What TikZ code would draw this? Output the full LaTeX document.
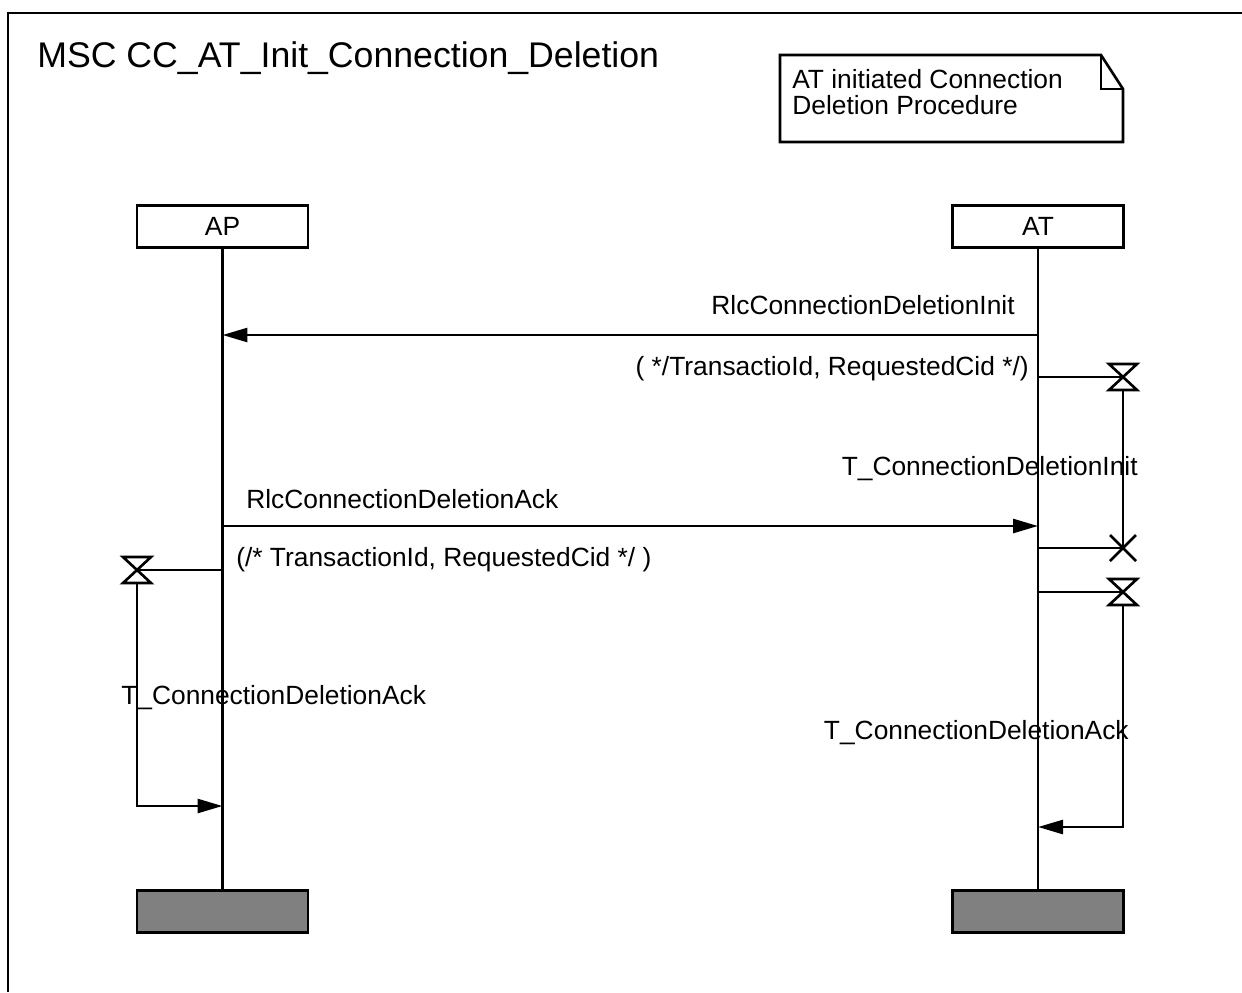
\documentclass[tikz,border=0pt]{standalone}
\usepackage{fontspec}
\setmainfont{Liberation Sans}
\usetikzlibrary{arrows.meta}
\tikzset{
  msgfont/.style={font=\fontsize{15}{14.7}\selectfont},
  lbl/.style={msgfont,inner sep=0pt},
  inst/.style={draw,line width=1.5pt,minimum width=3.42cm,minimum height=0.84cm,inner sep=0pt,msgfont},
  instend/.style={inst,fill=gray},
  msg/.style={line width=1.5pt,-{Triangle[length=5mm,width=2.8mm]}},
  timerset/.pic={\draw[line width=1.5pt,line join=miter] (-14,-13) -- (14,-13) -- (-14,13) -- (14,13) -- cycle;},
  timerout/.pic={\draw[line width=1.5pt] (-13,-13) -- (13,13) (-13,13) -- (13,-13);}
}
\begin{document}
\begin{tikzpicture}[x=0.02cm,y=-0.02cm,line width=1.5pt]
    \useasboundingbox (0,0) rectangle (1242,992);
    % frame and title
    \draw (1242,13) -- (8,13) -- (8,992);
    \node[anchor=base west,inner sep=0pt,font=\fontsize{20.3}{24}\selectfont] (title) at (36,67) {MSC CC\_AT\_Init\_Connection\_Deletion};
    % comment note
    \draw (780,55) -- (1101,55) -- (1123,89) -- (1123,142) -- (780,142) -- cycle;
    \draw (1101,55) -- (1101,89) -- (1123,89);
    \node[lbl,anchor=north west,align=left] (note) at (791,68) {AT initiated Connection\\Deletion Procedure};
    % instances
    \node[inst] (ap) at (222.5,226.5) {AP};
    \node[inst] (at) at (1038,226.5) {AT};
    \node[instend] (apend) at (222.5,911.5) {};
    \node[instend] (atend) at (1038,911.5) {};
    \draw (ap) -- (apend);
    \draw (at) -- (atend);
    % messages
    \coordinate (apm1) at (222.5,335);
    \coordinate (atm1) at (1038,335);
    \coordinate (apm2) at (222.5,526);
    \coordinate (atm2) at (1038,526);
    \draw[msg] (atm1) -- (apm1);
    \node[lbl,anchor=base east] (m1lbl) at (1016,314) {RlcConnectionDeletionInit};
    \node[lbl,anchor=base east] (m1par) at (1030,375) {( */TransactioId, RequestedCid */)};
    \draw[msg] (apm2) -- (atm2);
    \node[lbl,anchor=base west] (m2lbl) at (245,508) {RlcConnectionDeletionAck};
    \node[lbl,anchor=base west] (m2par) at (235,566) {(/* TransactionId, RequestedCid */ )};
    % timer T_ConnectionDeletionInit on AT
    \coordinate (atts1) at (1038,377);
    \coordinate (tini) at (1123,377);
    \coordinate (atto1) at (1038,548);
    \coordinate (tinix) at (1123,548);
    \draw (atts1) -- (tini);
    \pic at (tini) {timerset};
    \draw ([yshift=-0.26cm]tini) -- (tinix);
    \draw (atto1) -- (tinix);
    \pic at (tinix) {timerout};
    \node[lbl,anchor=base east] (tinilbl) at (1139,475) {T\_ConnectionDeletionInit};
    % timer T_ConnectionDeletionAck on AT
    \coordinate (atts2) at (1038,592);
    \coordinate (tack) at (1123,592);
    \coordinate (tackx) at (1123,827);
    \coordinate (atto2) at (1038,827);
    \draw (atts2) -- (tack);
    \pic at (tack) {timerset};
    \draw[msg] ([yshift=-0.26cm]tack) -- (tackx) -- (atto2);
    \node[lbl,anchor=base east] (tacklbl) at (1130,739) {T\_ConnectionDeletionAck};
    % timer T_ConnectionDeletionAck on AP
    \coordinate (apts) at (222.5,570);
    \coordinate (tapk) at (137,570);
    \coordinate (tapkx) at (137,806);
    \coordinate (apto) at (222.5,806);
    \draw (apts) -- (tapk);
    \pic at (tapk) {timerset};
    \draw[msg] ([yshift=-0.26cm]tapk) -- (tapkx) -- (apto);
    \node[lbl,anchor=base west] (tapklbl) at (120,704) {T\_ConnectionDeletionAck};
\end{tikzpicture}
\end{document}
